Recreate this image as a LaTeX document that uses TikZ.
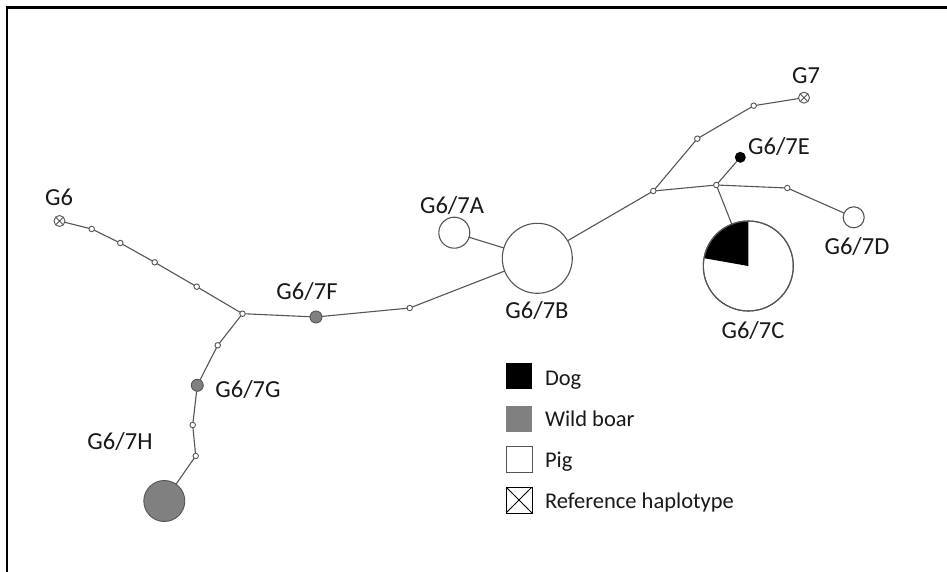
\documentclass[tikz,border=0pt]{standalone}
\usepackage{fontspec}
\setmainfont{Carlito}
\usetikzlibrary{backgrounds}
\definecolor{edgegray}{RGB}{85,85,85}
\definecolor{boargray}{RGB}{128,128,128}
\definecolor{txt}{RGB}{25,25,25}
\begin{document}
\begin{tikzpicture}[x=1pt,y=-1pt,
  every node/.style={inner sep=0pt, outer sep=0pt},
  hap/.style={circle, draw=edgegray, line width=1.1pt, fill=white, minimum size=#1},
  mv/.style={circle, draw=edgegray, line width=0.9pt, fill=white, minimum size=5.5pt},
  boar/.style={circle, draw=edgegray, line width=0.9pt, fill=boargray, minimum size=#1},
  dog/.style={circle, fill=black, minimum size=#1},
  refhap/.style={circle, draw=edgegray, line width=0.9pt, fill=white, minimum size=11pt,
    path picture={\draw[edgegray, line width=0.9pt] (path picture bounding box.north west) -- (path picture bounding box.south east)
      (path picture bounding box.north east) -- (path picture bounding box.south west);}},
  lab/.style={anchor=base, font=\fontsize{24.5}{28}\selectfont, text=txt},
  leglab/.style={anchor=base west, font=\fontsize{22.5}{28}\selectfont, text=txt},
  legbox/.style={minimum size=26pt, anchor=center},
  edge/.style={draw=edgegray, line width=1.1pt}]
\useasboundingbox (0,0) rectangle (947,572);

% haplotypes
\node[refhap] (G6) at (59.5,221) {};
\node[mv] (s1) at (91.7,229) {};
\node[mv] (s2) at (120.3,243) {};
\node[mv] (s3) at (154.7,262.3) {};
\node[mv] (s4) at (196.7,286.7) {};
\node[mv] (J1) at (242.5,313.7) {};
\node[boar=12pt] (F) at (316,317) {};
\node[mv] (s5) at (409.7,308) {};
\node[mv] (s6) at (217.7,345.3) {};
\node[boar=12pt] (G) at (197.3,385.3) {};
\node[mv] (s7) at (192.7,425) {};
\node[mv] (s8) at (195.7,456) {};
\node[boar=41pt] (H) at (164.3,501) {};
\node[hap=31pt] (A) at (454.3,232.7) {};
\node[hap=70pt] (B) at (537.3,258.3) {};
\node[mv] (J2) at (653.3,191) {};
\node[mv] (s9) at (697.3,138.7) {};
\node[mv] (s10) at (753.7,105.7) {};
\node[refhap] (G7) at (804,97.7) {};
\node[mv] (J3) at (716.3,185) {};
\node[dog=11pt] (E) at (740.3,157.3) {};
\node[mv] (s11) at (787.3,188) {};
\node[hap=21pt] (D) at (853.7,217.3) {};
\node[hap=90pt, path picture={\fill[black] (path picture bounding box.center) -- ++(90:45pt) arc[start angle=90, end angle=170, radius=45pt] -- cycle;}] (C) at (748.3,266) {};
\node[circle, draw=edgegray, line width=1.1pt, minimum size=90pt] at (C.center) {};

% background, frame and connectors
\begin{scope}[on background layer]
\fill[white] (0,0) rectangle (947,572);
\draw[black, line width=2.2pt] (7,572) -- (7,7.5) -- (947,7.5);
\draw[edge] (G6) -- (s1) -- (s2) -- (s3) -- (s4) -- (J1);
\draw[edge] (J1) -- (F) -- (s5) -- (B);
\draw[edge] (J1) -- (s6) -- (G) -- (s7) -- (s8) -- (H);
\draw[edge] (A) -- (B);
\draw[edge] (B) -- (J2);
\draw[edge] (J2) -- (s9) -- (s10) -- (G7);
\draw[edge] (J2) -- (J3) -- (E);
\draw[edge] (J3) -- (C);
\draw[edge] (J3) -- (s11) -- (D);
\end{scope}

% labels
\node[lab] (lG6) at (59,205.5) {G6};
\node[lab] (lF) at (307,299.5) {G6/7F};
\node[lab] (lG) at (248,397) {G6/7G};
\node[lab] (lH) at (120,449.5) {G6/7H};
\node[lab] (lA) at (452,213.5) {G6/7A};
\node[lab] (lB) at (537,318.5) {G6/7B};
\node[lab] (lG7) at (806,83.5) {G7};
\node[lab] (lE) at (779,154.5) {G6/7E};
\node[lab] (lD) at (857,254.5) {G6/7D};
\node[lab] (lC) at (753,338.5) {G6/7C};

% legend
\node[legbox, fill=black] (kdog) at (519,375.5) {};
\node[legbox, fill=boargray] (kboar) at (519,418.5) {};
\node[legbox, draw=edgegray, line width=0.9pt, fill=white] (kpig) at (519,459) {};
\node[legbox, draw=black, line width=0.9pt, fill=white,
  path picture={\draw[black, line width=0.9pt] (path picture bounding box.north west) -- (path picture bounding box.south east)
      (path picture bounding box.north east) -- (path picture bounding box.south west);}] (kref) at (519,500) {};
\node[leglab] (tdog) at (545,385) {Dog};
\node[leglab] (tboar) at (545,426.7) {Wild boar};
\node[leglab] (tpig) at (545,467) {Pig};
\node[leglab] (tref) at (545,508) {Reference haplotype};
\end{tikzpicture}
\end{document}
